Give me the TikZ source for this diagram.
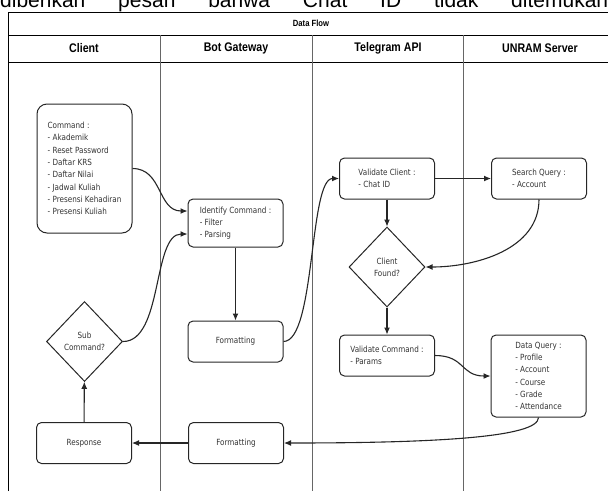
\documentclass[tikz,border=0pt]{standalone}
\usepackage{fontspec}
\newfontfamily\boxfont{DejaVu Sans}[FakeStretch=0.85]
\newfontfamily\headfont{Liberation Sans}[FakeStretch=0.85]
\newfontfamily\pagefont{Liberation Sans}
\usetikzlibrary{shapes.geometric,positioning,arrows.meta}

\begin{document}
\begin{tikzpicture}[x=1pt,y=-1pt,
    every node/.style={font=\boxfont\fontsize{8.5}{12.3}\selectfont,text=black!80},
    box/.style={draw=black!85,line width=1pt,rounded corners=5pt,minimum width=95pt,minimum height=41pt,inner sep=0pt,align=left},
    decision/.style={draw=black!85,line width=1pt,diamond,inner sep=0pt,align=center,minimum width=76pt,minimum height=80pt},
    lane/.style={font=\headfont\bfseries\fontsize{12.5}{14}\selectfont,text=black},
    arr/.style={-{Latex[length=7pt,width=6pt]},line width=1.1pt,black!85},
    divider/.style={draw=black!60,line width=1pt},
    node distance=152pt
    ]
    \useasboundingbox (0,0) rectangle (608,491);

    % cut line of the page text
    \begin{scope}
    \clip (0,0) rectangle (608,491);
    \node (cut) at (0,7.5) [anchor=base west,inner sep=0pt,text=black,font=\pagefont\fontsize{21}{24}\selectfont] {\makebox[608pt][s]{diberikan pesan bahwa Chat ID tidak ditemukan}};
    \end{scope}

    % the pool and lanes
    \draw[line width=1pt] (8,491) -- (8,12) -- (615,12);
    \draw[line width=1pt] (8,35) -- (615,35);
    \draw[line width=1pt] (8,62) -- (615,62);
    \foreach \x in {160,312,463}
        \draw[divider] (\x,35) -- (\x,491);

    \node (title) at (311,23.5) [font=\headfont\bfseries\fontsize{9}{10}\selectfont,text=black] {Data Flow};
    \node (client) at (84,48.5) [lane] {Client};
    \node (gateway) [lane,right of=client] {Bot Gateway};
    \node (telegram) [lane,right of=gateway] {Telegram API};
    \node (server) [lane,right of=telegram] {UNRAM Server};

    % the steps
    \node (cmd) at (84.5,168.5) [box,rounded corners=10pt,minimum height=129pt] {Command :\\- Akademik\\- Reset Password\\- Daftar KRS\\- Daftar Nilai\\- Jadwal Kuliah\\- Presensi Kehadiran\\- Presensi Kuliah};
    \node (ident) at (235.5,223) [box,minimum height=48pt] {Identify Command :\\- Filter\\- Parsing};
    \node (fmt1) at (235.5,341.5) [box] {Formatting};
    \node (sub) at (84.5,341.5) [decision] {Sub\\Command?};
    \node (resp) at (84,443) [box] {Response};
    \node (fmt2) [box,right of=resp] {Formatting};
    \node (vclient) at (387,178.5) [box] {Validate Client :\\- Chat ID};
    \node (search) [box,right of=vclient] {Search Query :\\- Account};
    \node (found) at (387,267) [decision] {Client\\Found?};
    \node (vcmd) at (387,355.5) [box] {Validate Command :\\- Params};
    \node (dquery) at (538.5,376) [box,minimum height=82pt] {Data Query :\\- Profile\\- Account\\- Course\\- Grade\\- Attendance};

    % the edges
    \draw[arr] (cmd.east) .. controls +(30,0) and +(-30,0) .. ([yshift=12pt]ident.west);
    \draw[arr] (sub.east) .. controls +(40,0) and +(-35,0) .. ([yshift=-11pt]ident.west);
    \draw[arr] (ident) -- (fmt1);
    \draw[arr] (fmt1.east) .. controls +(32,0) and +(-30,0) .. (vclient.west);
    \draw[arr] (vclient) -- (search);
    \draw[arr] (vclient) -- (found);
    \draw[arr] (search.south) .. controls +(0,50) and +(50,0) .. (found.east);
    \draw[arr] (found) -- (vcmd);
    \draw[arr] (vcmd.east) .. controls +(30,0) and +(-30,0) .. (dquery.west);
    \draw[arr] (dquery.south) .. controls +(0,20) and +(150,0) .. (fmt2.east);
    \draw[arr] (fmt2) -- (resp);
    \draw[arr] (resp) -- (sub);
\end{tikzpicture}
\end{document}
